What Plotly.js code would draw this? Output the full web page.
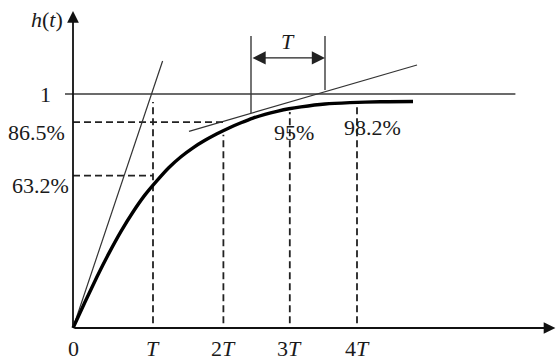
<!DOCTYPE html>
<html>
<head>
<meta charset="utf-8">
<script src="https://cdn.plot.ly/plotly-3.0.1.min.js"></script>
<style>html,body{margin:0;padding:0;background:#fff;}#chart{width:558px;height:364px;}</style>
</head>
<body>
<div id="chart"></div>
<script>
// ---- data (t in units of T, h as drawn) ----
const tTicks   = [0, 1.0, 1.88, 2.71, 3.55];
const tLabels  = ['0', '<i>T</i>', '2<i>T</i>', '3<i>T</i>', '4<i>T</i>'];
const hLevels  = [0.651, 0.880, 1];
const hLabels  = ['63.2%', '86.5%', '1'];
const curveT   = [0, 0.15, 0.30, 0.45, 0.60, 0.75, 0.90, 1.05, 1.20, 1.35, 1.50, 1.65, 1.80, 1.95, 2.10, 2.25, 2.40, 2.55, 2.70, 2.85, 3.15, 3.46, 3.84, 4.25];
const curveH   = [0, 0.111, 0.219, 0.320, 0.413, 0.496, 0.569, 0.630, 0.686, 0.732, 0.770, 0.802, 0.830, 0.855, 0.877, 0.897, 0.913, 0.926, 0.937, 0.945, 0.957, 0.963, 0.967, 0.968];
const tan0T    = [0, 1.12];
const tan0H    = [0, 1.141];
const tan2T    = [1.45, 4.30];
const tan2H    = [0.840, 1.124];
const steadyT  = [-0.10, 5.53];
const steadyH  = [1, 1];
const dropT    = [1.0, 1.88, 2.71, 3.55];      // dashed verticals at T, 2T, 3T, 4T
const dropTop  = [0.966, 0.826, 0.923, 0.948];
const dropBot  = 0.02;
const levelEndT = [1.0, 1.88];                 // dashed horizontals for 63.2%, 86.5%
const pctText  = ['95%', '98.2%'];
const pctT     = [2.76, 3.74];
const pctH     = [0.835, 0.859];
const bracketT = [2.225, 3.15];
const bracketBot = [0.919, 1.017];
const bracketTop = 1.248;
const bracketArrowH = 1.154;
const axisEndT = 6.03;
const axisEndH = 1.355;

const font = {family: 'Liberation Serif, serif', size: 22, color: '#1a1a1a'};
const ink = '#222';

// dashed segments
const dx = [], dy = [];
dropT.forEach((t, i) => { dx.push(t, t, null); dy.push(dropBot, dropTop[i], null); });
levelEndT.forEach((t, i) => { dx.push(0, t, null); dy.push(hLevels[i], hLevels[i], null); });

// bracket verticals
const bx = [], by = [];
bracketT.forEach((t, i) => { bx.push(t, t, null); by.push(bracketBot[i], bracketTop, null); });

const traces = [
  {x: dx, y: dy, mode: 'lines', line: {color: ink, width: 1.8, dash: '7px,4px'}, hoverinfo: 'skip'},
  {x: steadyT, y: steadyH, mode: 'lines', line: {color: '#3a3a3a', width: 1.4}, hoverinfo: 'skip'},
  {x: tan0T, y: tan0H, mode: 'lines', line: {color: '#333', width: 1.2}, hoverinfo: 'skip'},
  {x: tan2T, y: tan2H, mode: 'lines', line: {color: '#333', width: 1.2}, hoverinfo: 'skip'},
  {x: bx, y: by, mode: 'lines', line: {color: '#3a3a3a', width: 1.4}, hoverinfo: 'skip'},
  {x: curveT, y: curveH, mode: 'lines', line: {color: '#000', width: 3.4, shape: 'spline', smoothing: 0.6}, hoverinfo: 'skip'}
];

const ann = [];
// axes with arrowheads
ann.push({x: axisEndT, y: 0, ax: 0, ay: 0, axref: 'x', ayref: 'y', xref: 'x', yref: 'y', text: '',
  showarrow: true, arrowhead: 2, arrowsize: 1.3, arrowwidth: 1.8, arrowcolor: '#111', standoff: 0});
ann.push({x: 0, y: axisEndH, ax: 0, ay: 0, axref: 'x', ayref: 'y', xref: 'x', yref: 'y', text: '',
  showarrow: true, arrowhead: 2, arrowsize: 1.3, arrowwidth: 1.8, arrowcolor: '#111', standoff: 0});
// T bracket double arrow
ann.push({x: bracketT[1], y: bracketArrowH, ax: bracketT[0], ay: bracketArrowH, axref: 'x', ayref: 'y',
  xref: 'x', yref: 'y', text: '', showarrow: true, arrowside: 'end+start', arrowhead: 2, startarrowhead: 2,
  arrowsize: 2.2, startarrowsize: 2.2, arrowwidth: 1.2, arrowcolor: '#222', standoff: 0, startstandoff: 0});
ann.push({x: (bracketT[0] + bracketT[1]) / 2, y: bracketArrowH, xref: 'x', yref: 'y', text: '<i>T</i>',
  showarrow: false, yshift: 16, font: font});
// x tick labels
tTicks.forEach((t, i) => ann.push({x: t, y: 0, xref: 'x', yref: 'y', text: tLabels[i], showarrow: false,
  yanchor: 'middle', yshift: -20, font: font}));
// y level labels
hLevels.forEach((h, i) => ann.push({x: 0, y: h, xref: 'x', yref: 'y', text: hLabels[i], showarrow: false,
  xanchor: 'right', yanchor: 'middle', xshift: i === 2 ? -20 : (i === 0 ? -2 : -6), yshift: i === 2 ? 0 : -10, font: font}));
// percentage labels
pctText.forEach((s, i) => ann.push({x: pctT[i], y: pctH[i], xref: 'x', yref: 'y', text: s, showarrow: false,
  yanchor: 'middle', font: font}));
// h(t)
ann.push({x: 0, y: axisEndH, xref: 'x', yref: 'y', text: '<i>h</i>(<i>t</i>)', showarrow: false,
  xanchor: 'right', yanchor: 'middle', xshift: -8, yshift: -9, font: font});

const layout = {
  width: 558, height: 364, autosize: false,
  margin: {l: 0, r: 0, t: 0, b: 0, pad: 0},
  paper_bgcolor: '#fff', plot_bgcolor: '#fff',
  font: {family: 'Liberation Serif, serif'},
  showlegend: false,
  xaxis: {range: [-0.9125, 6.0625], visible: false, fixedrange: true},
  yaxis: {range: [-0.1538, 1.4017], visible: false, fixedrange: true},
  annotations: ann
};

Plotly.newPlot('chart', traces, layout, {staticPlot: true, displayModeBar: false});
</script>
</body>
</html>
